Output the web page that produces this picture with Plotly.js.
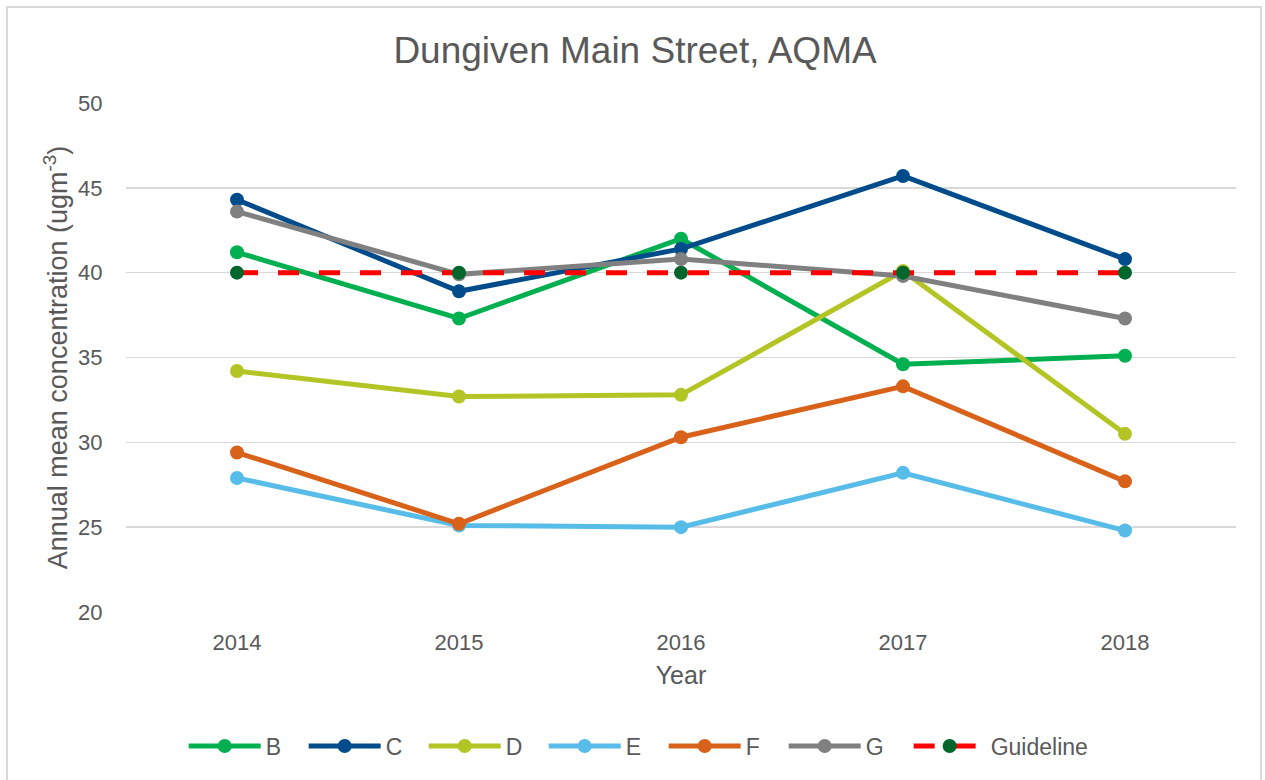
<!DOCTYPE html>
<html>
<head>
<meta charset="utf-8">
<script src="https://cdn.plot.ly/plotly-3.0.1.min.js"></script>
<style>
  html, body { margin: 0; padding: 0; background: #ffffff; }
  #wrap { position: relative; width: 1265px; height: 780px; overflow: hidden; }
  #chart { position: absolute; left: 0; top: 0; width: 1265px; height: 780px; }
  #frame { position: absolute; left: 6px; top: 6px; width: 1256px; height: 790px;
           border: 2px solid #d9d9d9; pointer-events: none; box-sizing: border-box; }
</style>
</head>
<body>
<div id="wrap">
  <div id="chart"></div>
  <div id="frame"></div>
</div>
<script>
const years = ['2014', '2015', '2016', '2017', '2018'];
const seriesNames = ['B', 'C', 'D', 'E', 'F', 'G', 'Guideline'];
const B = [41.2, 37.3, 42.0, 34.6, 35.1];
const C = [44.3, 38.9, 41.4, 45.7, 40.8];
const D = [34.2, 32.7, 32.8, 40.1, 30.5];
const E = [27.9, 25.1, 25.0, 28.2, 24.8];
const F = [29.4, 25.2, 30.3, 33.3, 27.7];
const G = [43.6, 39.9, 40.8, 39.8, 37.3];
const Guideline = [40, 40, 40, 40, 40];
const yTicks = [20, 25, 30, 35, 40, 45, 50];

const seriesValues = [B, C, D, E, F, G];
const seriesColors = ['#00B050', '#004C8B', '#B3C425', '#57BDE8', '#D9621A', '#808080'];

const textColor = '#595959';
const fontFamily = 'Liberation Sans, Arial, sans-serif';

const traces = seriesValues.map((vals, i) => ({
  type: 'scatter',
  mode: 'lines+markers',
  name: seriesNames[i],
  x: years,
  y: vals,
  line: { color: seriesColors[i], width: 5 },
  marker: { color: seriesColors[i], size: 14 },
  legend: 'legend',
  hoverinfo: 'skip'
}));

traces.push({
  type: 'scatter',
  mode: 'lines+markers',
  name: seriesNames[6],
  x: years,
  y: Guideline,
  line: { color: '#FF0000', width: 5, dash: '21px,20px' },
  marker: { color: '#00662B', size: 14 },
  legend: 'legend2',
  hoverinfo: 'skip'
});

const legendCommon = {
  orientation: 'h',
  xanchor: 'left', xref: 'container',
  y: 1 - 746 / 780, yanchor: 'middle', yref: 'container',
  font: { size: 23, color: textColor },
  itemwidth: 72,
  itemclick: false,
  itemdoubleclick: false,
  traceorder: 'normal'
};

const layout = {
  width: 1265,
  height: 780,
  paper_bgcolor: '#ffffff',
  plot_bgcolor: '#ffffff',
  margin: { l: 126, r: 29, t: 103, b: 168 },
  font: { family: fontFamily, color: textColor, size: 22 },
  title: {
    text: 'Dungiven Main Street, AQMA',
    font: { family: fontFamily, size: 37, color: textColor },
    x: 0.502, xanchor: 'center',
    y: 1 - 50 / 780, yanchor: 'middle'
  },
  xaxis: {
    type: 'category',
    range: [-0.5, 4.5],
    showgrid: false,
    zeroline: false,
    showline: false,
    ticks: 'outside',
    ticklen: 11,
    tickcolor: 'rgba(0,0,0,0)',
    tickfont: { size: 22, color: textColor },
    title: { text: 'Year', font: { size: 25, color: textColor }, standoff: 12 },
    fixedrange: true
  },
  yaxis: {
    range: [20, 50],
    tickvals: yTicks,
    ticktext: yTicks.map(String),
    showgrid: true,
    gridcolor: '#d9d9d9',
    gridwidth: 1.5,
    zeroline: false,
    showline: false,
    ticks: 'outside',
    ticklen: 18,
    tickcolor: 'rgba(0,0,0,0)',
    tickfont: { size: 22, color: textColor },
    title: { text: 'Annual mean concentration (ugm<sup>-3</sup>)', font: { size: 27, color: textColor }, standoff: 2 },
    fixedrange: true
  },
  showlegend: true,
  legend: Object.assign({}, legendCommon, { x: 0.1452, entrywidth: 33 }),
  legend2: Object.assign({}, legendCommon, { x: 0.7183 }),
  hovermode: false
};

Plotly.newPlot('chart', traces, layout, { displayModeBar: false, staticPlot: true });
</script>
</body>
</html>
